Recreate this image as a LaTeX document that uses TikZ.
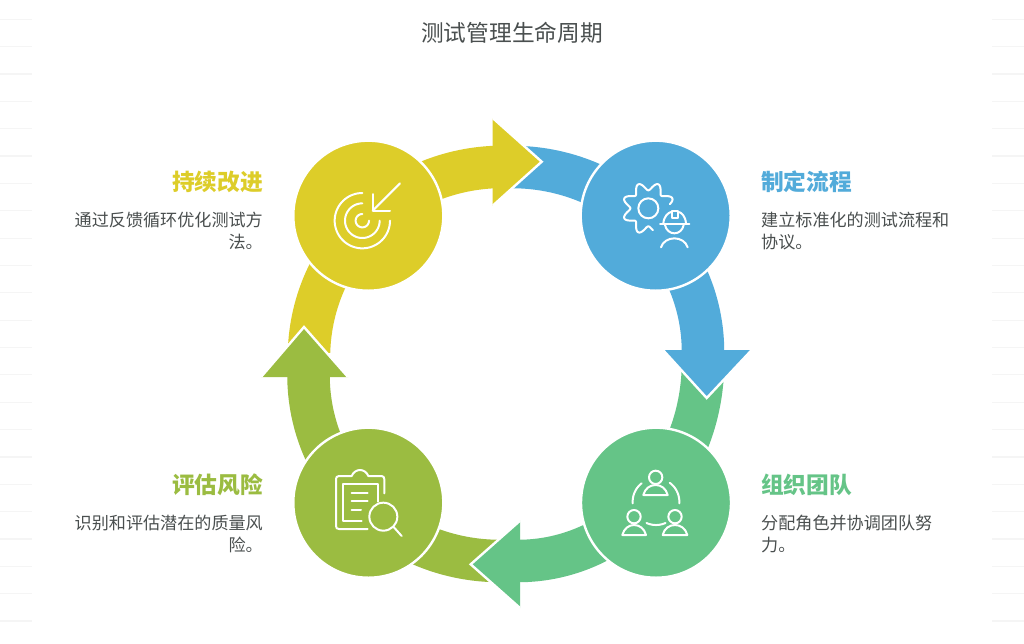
\documentclass[tikz,border=0pt]{standalone}
\usepackage{fontspec}
\setmainfont{Noto Sans CJK SC}
\definecolor{cblue}{HTML}{52ABDA}
\definecolor{cyellow}{HTML}{DDCD29}
\definecolor{clime}{HTML}{9BBC41}
\definecolor{cgreen}{HTML}{65C487}
\definecolor{ctext}{HTML}{4A4F4F}
\definecolor{cfaint}{HTML}{F5F5F5}
\tikzset{
  band/.style={line width=42.5pt,line cap=butt},
  headedge/.style={draw=white,line width=2.4pt,line join=miter},
  hub/.style={circle,draw=white,line width=2.4pt,minimum size=150pt,inner sep=0pt},
  heading/.style={font=\fontsize{22.7}{26}\selectfont\bfseries,inner sep=0pt},
  bodytext/.style={font=\fontsize{17.1}{22}\selectfont,text=ctext,inner sep=0pt},
  icon/.style={draw=white,line width=2pt,line cap=round,line join=round,x=0.33333pt,y=-0.33333pt},
}
\begin{document}
\begin{tikzpicture}[x=1pt,y=-1pt]
\useasboundingbox (0,0) rectangle (1024,643);
\fill[white] (0,0) rectangle (1024,643);
% faint background rules
\foreach \k in {0,...,22}{
  \draw[cfaint,line width=1.2pt] (0,{19.3+27.35*\k}) -- (32,{19.3+27.35*\k});
  \draw[cfaint,line width=1.2pt] (992,{19.3+27.35*\k}) -- (1024,{19.3+27.35*\k});
}
% curved bands
\draw[band,cblue] (512,167) .. controls (617.5,167) and (703,249) .. (703,352);
\draw[band,cgreen] (703,362) .. controls (703,472) and (620,561) .. (518,561);
\draw[band,clime] (500,561) .. controls (394,561) and (308.5,479) .. (308.5,375);
\draw[band,cyellow] (309,352) .. controls (312,250) and (395,171) .. (495,167);
% arrow heads
\fill[cyellow] (492.7,118) -- (541.7,161.7) -- (492.7,205.7) -- cycle;
\draw[headedge] (492.7,118) -- (541.7,161.7) -- (492.7,205.7);
\fill[cblue] (663,350) -- (706.7,398) -- (751.7,350) -- cycle;
\draw[headedge] (663,350) -- (706.7,398) -- (751.7,350);
\fill[cgreen] (520,520.7) -- (470.7,564.3) -- (520,608) -- cycle;
\draw[headedge] (520,520.7) -- (470.7,564.3) -- (520,608);
\fill[clime] (261,377) -- (304,327) -- (348,377) -- cycle;
\draw[headedge] (261,377) -- (304,327) -- (348,377);
% hubs
\node[hub,fill=cblue] (hubblue) at (655.7,215.7) {};
\node[hub,fill=cyellow] (hubyellow) at (368.3,215.7) {};
\node[hub,fill=clime] (hublime) at (368.3,502.7) {};
\node[hub,fill=cgreen] (hubgreen) at (656,502.7) {};
% gear and worker icon
\begin{scope}[shift={(610pt,-170pt)},icon]
  \draw plot[domain=78:349,samples=140] ({115+(66+12*cos(8*(\x-22.5)))*cos(\x)},{115+(66+12*cos(8*(\x-22.5)))*sin(\x)});
  \draw (115,115) circle[radius=30];
  \draw (150,162) -- (238,162);
  \draw (160,160) .. controls (162,138) and (175,127) .. (186,125);
  \draw (203,125) .. controls (215,127) and (226,138) .. (228,160);
  \draw (185,145) -- (185,122) -- (203,122) -- (203,145) -- cycle;
  \draw (165,165) .. controls (168,180) and (180,190) .. (193,190) .. controls (207,190) and (218,180) .. (221,165);
  \draw (153,232) .. controls (158,215) and (175,205) .. (193,205) .. controls (211,205) and (228,215) .. (233,232);
\end{scope}
% target icon
\begin{scope}[shift={(325pt,-170pt)},icon]
  \draw (225,40) -- (143,122);
  \draw (143,72) -- (143,122) -- (195,122);
  \draw plot[domain=0:270,samples=50] ({112+83*cos(\x)},{152+83*sin(\x)});
  \draw plot[domain=0:270,samples=50] ({112+52*cos(\x)},{152+52*sin(\x)});
  \draw plot[domain=0:270,samples=50] ({112+20*cos(\x)},{152+20*sin(\x)});
\end{scope}
% clipboard icon
\begin{scope}[shift={(325pt,-460pt)},icon]
  \draw (178,100) -- (178,58) .. controls (178,52) and (175,48) .. (170,48) -- (130,48)
    .. controls (125,36) and (115,30) .. (105,30) .. controls (95,30) and (85,36) .. (80,48)
    -- (42,48) .. controls (36,48) and (33,52) .. (33,57) -- (33,198)
    .. controls (33,204) and (36,207) .. (42,207) -- (128,207);
  \draw (160,125) -- (160,72) -- (55,72) -- (55,183) -- (110,183);
  \draw (80,98) -- (128,98);
  \draw (80,123) -- (128,123);
  \draw (80,150) -- (108,150);
  \draw (175,170) circle[radius=42];
  \draw (205,200) -- (230,228);
\end{scope}
% team icon
\begin{scope}[shift={(610pt,-460pt)},icon]
  \draw (137,52) circle[radius=20];
  \draw (100,105) .. controls (105,85) and (120,75) .. (137,75) .. controls (153,75) and (168,85) .. (173,105) -- cycle;
  \draw (72,170) circle[radius=20];
  \draw (37,225) .. controls (42,205) and (57,195) .. (72,195) .. controls (88,195) and (103,205) .. (108,225) -- cycle;
  \draw (195,170) circle[radius=20];
  \draw (158,225) .. controls (163,205) and (178,195) .. (195,195) .. controls (211,195) and (227,205) .. (232,225) -- cycle;
  \draw plot[domain=232:176,samples=20] ({138+70*cos(\x)},{125+70*sin(\x)});
  \draw plot[domain=-54:4,samples=20] ({138+70*cos(\x)},{125+70*sin(\x)});
  \draw plot[domain=66:114,samples=20] ({138+70*cos(\x)},{125+70*sin(\x)});
\end{scope}
% texts
\node[font=\fontsize{22.7}{26}\selectfont,text=ctext,inner sep=0pt] (title) at (512,33) {测试管理生命周期};
\node[heading,text=cblue,anchor=west] (h1) at (761,182) {制定流程};
\node[bodytext,anchor=north west,align=left] (b1) at (761,212) {建立标准化的测试流程和\\协议。};
\node[heading,text=cgreen,anchor=west] (h2) at (761,485) {组织团队};
\node[bodytext,anchor=north west,align=left] (b2) at (761,515) {分配角色并协调团队努\\力。};
\node[heading,text=cyellow,anchor=east] (h3) at (263,182) {持续改进};
\node[bodytext,anchor=north east,align=right] (b3) at (263,212) {通过反馈循环优化测试方\\法。};
\node[heading,text=clime,anchor=east] (h4) at (263,485) {评估风险};
\node[bodytext,anchor=north east,align=right] (b4) at (263,515) {识别和评估潜在的质量风\\险。};
\end{tikzpicture}
\end{document}
